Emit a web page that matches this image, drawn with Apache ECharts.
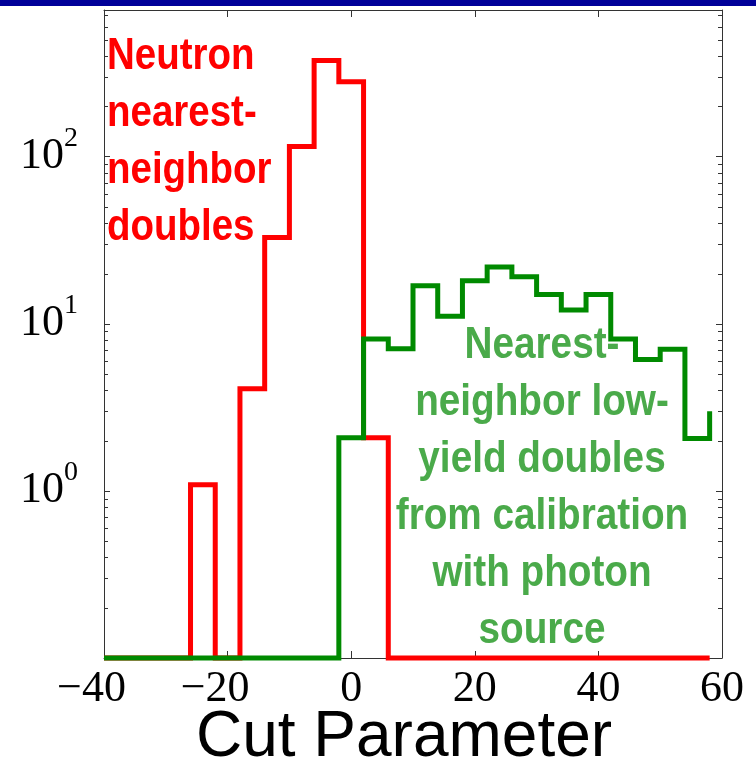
<!DOCTYPE html>
<html><head><meta charset="utf-8">
<script src="https://cdn.jsdelivr.net/npm/echarts@6/dist/echarts.min.js"></script>
<style>html,body{margin:0;padding:0;background:#fff}#c{width:756px;height:763px}</style>
</head><body><div id="c"></div>
<script>
// ---- data (bin left edges, counts per bin; 0 = empty bin) ----
const binLeftEdges = [-40, -38, -34, -30, -26, -22, -18, -14, -10, -6, -2, 2, 6, 10, 14, 18, 22, 26, 30, 34, 38, 42, 46, 50, 54, 58];
const neutronCounts = [0, 0, 0, 0, 1.09, 0, 4.08, 32.9, 115, 376, 281, 2.08, 0, 0, 0, 0, 0, 0, 0, 0, 0, 0, 0, 0, 0, 0];
const photonCounts  = [0, 0, 0, 0, 0, 0, 0, 0, 0, 0, 2.08, 8.1, 7.1, 16.9, 11.1, 18.1, 21.9, 19.1, 15.0, 12.1, 15.0, 8.1, 6.12, 7.05, 2.06, 3.0];
const xTickValues = [-40, -20, 0, 20, 40, 60];
const yMajorTicks = [1, 10, 100];
const yExponents = ['0', '1', '2'];
const yMinorTicks = [0.2, 0.3, 0.4, 0.5, 0.6, 0.7, 0.8, 0.9, 2, 3, 4, 5, 6, 7, 8, 9, 20, 30, 40, 50, 60, 70, 80, 90, 200, 300, 400, 500, 600, 700];
const neutronLabel = 'Neutron\nnearest-\nneighbor\ndoubles';
const photonLabel = 'Nearest-\nneighbor low-\nyield doubles\nfrom calibration\nwith photon\nsource';
const xAxisTitle = 'Cut Parameter';
const Y_MIN = 0.1, Y_MAX = 755;

const toSeries = (counts) => binLeftEdges.map((e, i) => [e, counts[i] > 0 ? counts[i] : Y_MIN]);

const chart = echarts.init(document.getElementById('c'), null, {renderer: 'canvas'});
const axisCol = '#333';
const serif = '"Liberation Serif", "Times New Roman", serif';
const sans = '"Liberation Sans", Arial, sans-serif';

const xLabelFmt = (v) => {
  if (v < 0) return '{n|\u2212' + Math.abs(v) + '}';
  return '{p|' + v + '}';
};
const yLabelFmt = (v) => {
  for (let i = 0; i < yMajorTicks.length; i++) {
    if (Math.abs(v - yMajorTicks[i]) < 1e-6 * yMajorTicks[i]) return '{b|10}{s|' + yExponents[i] + '}';
  }
  return '';
};

chart.setOption({
  animation: false,
  backgroundColor: '#fff',
  grid: {left: 104, right: 34, top: 10, bottom: 105, containLabel: false, outerBoundsMode: 'none'},
  xAxis: [{
    type: 'value', min: -40, max: 60, interval: 20, position: 'bottom',
    axisLine: {show: true, onZero: false, lineStyle: {color: axisCol, width: 1}},
    axisTick: {show: true, inside: true, length: 7, lineStyle: {color: axisCol}},
    splitLine: {show: false},
    axisLabel: {
      margin: 9, formatter: xLabelFmt, showMinLabel: true, showMaxLabel: true,
      rich: {
        n: {fontFamily: serif, fontSize: 44, color: '#000', padding: [0, 25, 0, 0]},
        p: {fontFamily: serif, fontSize: 44, color: '#000'}
      }
    },
    name: xAxisTitle, nameLocation: 'middle', nameGap: 48, nameMoveOverlap: false,
    nameTextStyle: {fontFamily: sans, fontSize: 64, color: '#000', padding: [0, 18, 0, 0]}
  }, {
    type: 'value', min: -40, max: 60, interval: 20, position: 'top',
    axisLine: {show: true, onZero: false, lineStyle: {color: axisCol, width: 1}},
    axisTick: {show: true, inside: true, length: 7, lineStyle: {color: axisCol}},
    axisLabel: {show: false}, splitLine: {show: false}
  }],
  yAxis: [{
    type: 'log', logBase: 10, min: Y_MIN, max: Y_MAX, position: 'left',
    axisLine: {show: true, onZero: false, lineStyle: {color: axisCol, width: 1}},
    axisTick: {show: true, inside: true, length: 6, lineStyle: {color: axisCol}},
    splitLine: {show: false},
    axisLabel: {
      margin: 26, formatter: yLabelFmt, showMinLabel: true, showMaxLabel: true,
      rich: {
        b: {fontFamily: serif, fontSize: 44, lineHeight: 64, color: '#000'},
        s: {fontFamily: serif, fontSize: 28, lineHeight: 28, color: '#000', verticalAlign: 'top'}
      }
    }
  }, {
    type: 'log', logBase: 10, min: Y_MIN, max: Y_MAX, position: 'right',
    axisLine: {show: true, onZero: false, lineStyle: {color: axisCol, width: 1}},
    axisTick: {show: true, inside: true, length: 6, lineStyle: {color: axisCol}},
    axisLabel: {show: false}, splitLine: {show: false}
  }],
  series: [{
    name: 'Neutron nearest-neighbor doubles', type: 'line', step: 'end',
    xAxisIndex: 0, yAxisIndex: 0, data: toSeries(neutronCounts),
    showSymbol: false, symbol: 'none', clip: false, z: 3,
    lineStyle: {color: '#ff0000', width: 5, join: 'miter', cap: 'butt'}
  }, {
    name: 'Nearest-neighbor low-yield doubles', type: 'line', step: 'end',
    xAxisIndex: 0, yAxisIndex: 0, data: toSeries(photonCounts),
    showSymbol: false, symbol: 'none', clip: false, z: 4,
    lineStyle: {color: '#008a00', width: 5, join: 'miter', cap: 'butt'}
  }]
});

// minor ticks on log axes + annotations
const xL = chart.convertToPixel({xAxisIndex: 0}, -40);
const xR = chart.convertToPixel({xAxisIndex: 0}, 60);
const graphics = [
  {type: 'rect', shape: {x: 0, y: 0, width: 756, height: 6}, style: {fill: '#000099'}, z: 10}
];
yMinorTicks.forEach(v => {
  const py = Math.round(chart.convertToPixel({yAxisIndex: 0}, v)) + 0.5;
  graphics.push({type: 'line', shape: {x1: xL, y1: py, x2: xL + 4, y2: py}, style: {stroke: axisCol, lineWidth: 1}, z: 1});
  graphics.push({type: 'line', shape: {x1: xR, y1: py, x2: xR - 4, y2: py}, style: {stroke: axisCol, lineWidth: 1}, z: 1});
});
graphics.push({
  type: 'text', x: 107, y: 28, scaleX: 0.855, z: 5,
  style: {text: neutronLabel, fontFamily: sans, fontWeight: 'bold', fontSize: 45, lineHeight: 57,
          fill: '#ff0000', align: 'left', verticalAlign: 'top'}
});
graphics.push({
  type: 'text', x: 542, y: 317, scaleX: 0.86, z: 5,
  style: {text: photonLabel, fontFamily: sans, fontWeight: 'bold', fontSize: 45, lineHeight: 57,
          fill: '#4aaa4a', align: 'center', verticalAlign: 'top'}
});
chart.setOption({graphic: graphics});
</script>
</body></html>
